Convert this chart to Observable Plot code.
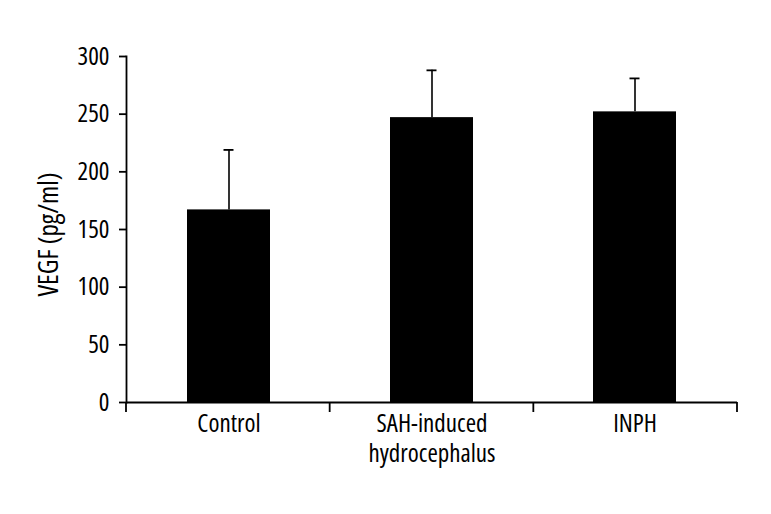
<!DOCTYPE html>
<html>
<head>
<meta charset="utf-8">
<script src="https://cdn.jsdelivr.net/npm/d3@7"></script>
<script src="https://cdn.jsdelivr.net/npm/@observablehq/plot@0.6"></script>
<style>
  html, body { margin: 0; padding: 0; background: #fff; }
  #chart svg, #chart svg text { font-family: "Open Sans", sans-serif; font-stretch: 75%; font-weight: 400; }
</style>
</head>
<body>
<div id="chart"></div>
<script>
const categories = ["Control", "SAH-induced hydrocephalus", "INPH"];
const categoryLabels = ["Control", "SAH-induced\nhydrocephalus", "INPH"];
const means = [167, 247, 252];
const errors = [52, 41, 29];
const yTicks = [0, 50, 100, 150, 200, 250, 300];
const yLabel = "VEGF (pg/ml)";

const data = categories.map((c, i) => ({group: c, label: categoryLabels[i], mean: means[i], upper: means[i] + errors[i]}));

const W = 771, H = 514;

function boundaryTicks(index, scales, values, dimensions) {
  const {width, height, marginLeft, marginRight, marginBottom} = dimensions;
  const n = categories.length;
  const step = (width - marginLeft - marginRight) / n;
  const g = d3.create("svg:g").attr("stroke", "black").attr("stroke-width", 1.8);
  const y0 = height - marginBottom;
  for (let i = 0; i <= n; i++) {
    const x = marginLeft + i * step;
    g.append("line").attr("x1", x).attr("x2", x).attr("y1", y0).attr("y2", y0 + 10);
  }
  return g.node();
}

const chart = Plot.plot({
  width: W,
  height: H,
  marginLeft: 126,
  marginRight: 34,
  marginTop: 56,
  marginBottom: 112,
  style: {background: "white", color: "black"},
  x: {domain: categories, paddingInner: 0.59, paddingOuter: 0.295, axis: null},
  y: {domain: [0, 300], axis: null},
  marks: [
    Plot.barY(data, {x: "group", y: "mean", fill: "black"}),
    Plot.ruleX(data, {x: "group", y1: "mean", y2: "upper", stroke: "black", strokeWidth: 1.6}),
    Plot.tickY(data, {x: "group", y: "upper", stroke: "black", strokeWidth: 1.8, insetLeft: 36.5, insetRight: 36.5}),
    Plot.ruleY([0], {stroke: "black", strokeWidth: 1.8}),
    Plot.frame({anchor: "left", stroke: "black", strokeWidth: 1.8}),
    Plot.axisY({ticks: yTicks, tickSize: 7, tickPadding: 10, fontSize: 25, strokeWidth: 1.8, label: null}),
    Plot.text([yLabel], {text: d => d, frameAnchor: "left", rotate: -90, dx: -77, dy: 5,
      textAnchor: "middle", lineAnchor: "middle", fontSize: 27, fill: "black"}),
    boundaryTicks,
    Plot.text(data, {x: "group", text: "label", frameAnchor: "bottom", lineAnchor: "top", dy: 8,
      lineHeight: 1.2, fontSize: 25, fill: "black"})
  ]
});
document.getElementById("chart").appendChild(chart);
</script>
</body>
</html>
